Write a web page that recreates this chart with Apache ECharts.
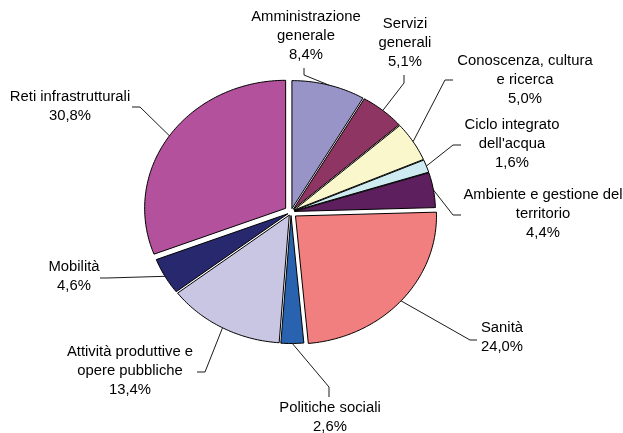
<!DOCTYPE html>
<html><head><meta charset="utf-8">
<script src="https://cdn.jsdelivr.net/npm/echarts@6/dist/echarts.min.js"></script>
<style>html,body{margin:0;padding:0;background:#fff}#c{width:623px;height:433px}</style>
</head><body><div id="c"></div>
<script>
// ---- data ----
const categories = ['Amministrazione generale', 'Servizi generali', 'Conoscenza, cultura e ricerca',
  "Ciclo integrato dell'acqua", 'Ambiente e gestione del territorio', 'Sanità', 'Politiche sociali',
  'Attività produttive e opere pubbliche', 'Mobilità', 'Reti infrastrutturali'];
const values = [8.4, 5.1, 5.0, 1.6, 4.4, 24.0, 2.6, 13.4, 4.6, 30.8];
const labelNames = ['Amministrazione\ngenerale', 'Servizi\ngenerali', 'Conoscenza, cultura\ne ricerca',
  "Ciclo integrato\ndell'acqua", 'Ambiente e gestione del\nterritorio', 'Sanità', 'Politiche sociali',
  'Attività produttive e\nopere pubbliche', 'Mobilità', 'Reti infrastrutturali'];

// ---- style / layout ----
const colors = ['#9894C8', '#8F3563', '#FAF7CD', '#CDEBF0', '#5E1F5E', '#F27F7F', '#2962AE', '#C8C6E3', '#28286E', '#B3519C'];
const explode = [3.5, 3.5, 3.5, 3.5, 3.5, 6, 3.5, 3.5, 3.5, 6.5];
const labelCenter = [[306, 36], [405, 43.5], [525, 80], [512, 144.5], [543, 214.5], [502, 338], [330, 418], [130, 371], [74, 277], [70, 106.5]];
const leaderPts = [
  [[304, 75], [304, 68]],
  [[404, 83], [404, 75]],
  [[445, 80], [453, 80]],
  [[453, 145], [461, 145]],
  [[453, 215], [461, 215]],
  [[470, 340], [477, 340]],
  [[329, 387], [329, 397]],
  [[205, 372], [197, 372]],
  [[107, 278], [100, 278]],
  [[140, 107], [132, 107]]
];

const total = values.reduce((a, b) => a + b, 0);
const cum = [];
values.reduce((acc, v, i) => { cum[i] = acc; return acc + v; }, 0);
const fmt = v => v.toFixed(1).replace('.', ',') + '%';

function renderItem(params, api) {
  const i = params.dataIndex;
  const v = api.value(1);
  const a0 = cum[i] / total * 2 * Math.PI;
  const a1 = (cum[i] + v) / total * 2 * Math.PI;
  const am = (a0 + a1) / 2;
  const dx = explode[i] * Math.sin(am), dy = -explode[i] * Math.cos(am);
  const c = api.coord([0, 0]);
  const pts = [[c[0] + dx, c[1] + dy]];
  const n = Math.max(2, Math.ceil((a1 - a0) / 0.02));
  for (let k = 0; k <= n; k++) {
    const a = a0 + (a1 - a0) * k / n;
    const p = api.coord([Math.sin(a), Math.cos(a)]);
    pts.push([p[0] + dx, p[1] + dy]);
  }
  const s = api.coord([Math.sin(am), Math.cos(am)]);
  const start = [s[0] + dx, s[1] + dy];
  return {
    type: 'group',
    children: [
      { type: 'polygon', shape: { points: pts }, style: { fill: colors[i], stroke: '#000', lineWidth: 1 } },
      { type: 'polyline', shape: { points: [start].concat(leaderPts[i]) }, style: { stroke: '#1a1a1a', lineWidth: 1, fill: 'transparent' } },
      {
        type: 'text', x: labelCenter[i][0], y: labelCenter[i][1], scaleX: 1.06,
        style: {
          text: labelNames[i] + '\n' + fmt(v), x: 0, y: 0,
          align: 'center', verticalAlign: 'middle', textAlign: 'center', textVerticalAlign: 'middle',
          font: '14px "Liberation Sans", Arial, sans-serif', lineHeight: 19, fill: '#000'
        }
      }
    ]
  };
}

const chart = echarts.init(document.getElementById('c'), null, { renderer: 'canvas' });
chart.setOption({
  backgroundColor: '#fff',
  animation: false,
  grid: { left: 150, top: 84, width: 282, height: 256 },
  xAxis: { type: 'value', min: -1, max: 1, show: false },
  yAxis: { type: 'value', min: -1, max: 1, show: false },
  series: [{
    type: 'custom',
    name: 'Spesa',
    coordinateSystem: 'cartesian2d',
    renderItem: renderItem,
    clip: false,
    encode: { x: 0, y: 1 },
    data: values.map((v, i) => ({ name: categories[i], value: [0, v] }))
  }]
});
</script>
</body></html>
